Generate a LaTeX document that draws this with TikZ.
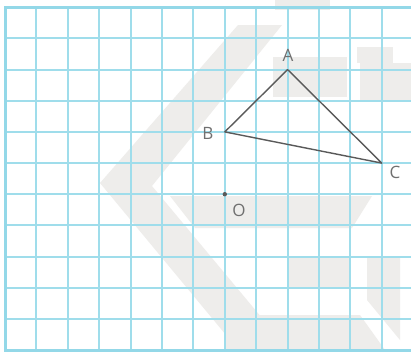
\documentclass[tikz,border=0pt]{standalone}
\usepackage{fontspec}
\setmainfont{Open Sans}
\definecolor{gridc}{HTML}{9FDDEB}
\definecolor{borderc}{HTML}{93D8E8}
\definecolor{wm}{HTML}{EEEDEB}
\definecolor{labc}{HTML}{707070}
\definecolor{segc}{HTML}{5A5A5A}
\begin{document}
\begin{tikzpicture}[x=1pt,y=-1pt,
  gridline/.style={draw=gridc,line width=2pt},
  borderline/.style={draw=borderc,line width=3pt},
  seg/.style={draw=segc,line width=1.4pt,line join=round},
  lab/.style={text=labc,font=\fontsize{17}{17}\selectfont,inner sep=0pt},
  wmark/.style={fill=wm,draw=none}]
\useasboundingbox (0,0) rectangle (411,354);
\fill[white] (0,0) rectangle (411,354);
% watermark
\fill[wmark] (238,25) -- (100,183) -- (226,335) -- (262,318) -- (152,186) -- (282,25) -- cycle;
\fill[wmark] (170,196) -- (372,196) -- (352,228) -- (195,228) -- cycle;
\fill[wmark] (222,315) -- (360,315) -- (385,350) -- (226,350) -- cycle;
\fill[wmark] (287,258) rectangle (350,288);
\fill[wmark] (367,258) -- (400,258) -- (400,340) -- (367,300) -- cycle;
\fill[wmark] (273,57) rectangle (347,97);
\fill[wmark] (357,47) rectangle (393,63);
\fill[wmark] (360,63) rectangle (411,100);
\fill[wmark] (275,0) rectangle (330,10);
% grid
\foreach \k in {1,...,13} \draw[gridline] ({5+31.4*\k},7.3) -- ({5+31.4*\k},350);
\foreach \k in {1,...,10} \draw[gridline] (5,{7.3+31.15*\k}) -- (413,{7.3+31.15*\k});
\draw[borderline] (413,7.3) -- (5,7.3) -- (5,350) -- (413,350);
% points
\coordinate (A) at (287.6,69.6);
\coordinate (B) at (224.8,131.9);
\coordinate (C) at (381.8,163.1);
\coordinate (O) at (224.8,194.2);
\draw[seg] (A) -- (B) -- (C) -- cycle;
\fill[segc] (O) circle (2.2pt);
\node[lab] (lA) at (288,55) {A};
\node[lab] (lB) at (208,133) {B};
\node[lab] (lC) at (395,172) {C};
\node[lab] (lO) at (239,210) {O};
\end{tikzpicture}
\end{document}
